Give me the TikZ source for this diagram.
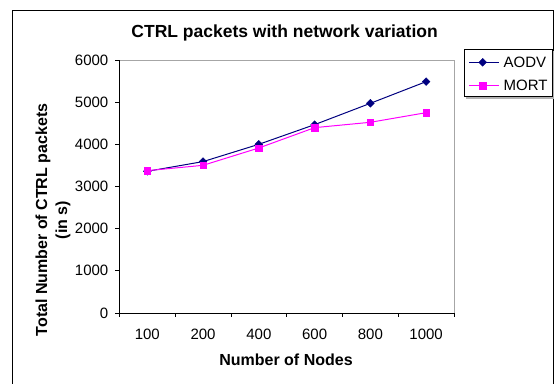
\documentclass[tikz,border=0pt]{standalone}
\usepackage{fontspec}
\setmainfont{Liberation Sans}
\usetikzlibrary{shapes.geometric}
\definecolor{aodv}{RGB}{0,0,128}
\definecolor{mort}{RGB}{255,0,255}
\begin{document}
\begin{tikzpicture}[x=1pt,y=-1pt,
  tick/.style={font=\fontsize{15}{17}\selectfont, inner sep=0pt},
  axlab/.style={font=\fontsize{16}{20}\selectfont\bfseries, inner sep=0pt},
  dmark/.style={diamond, fill=aodv, draw=aodv, inner sep=0pt, minimum size=8pt},
  smark/.style={rectangle, fill=mort, draw=mort, inner sep=0pt, minimum size=6.5pt},
  aline/.style={draw=aodv, line width=1pt},
  mline/.style={draw=mort, line width=1pt}]
\useasboundingbox (0,0) rectangle (556,383);
\clip (0,0) rectangle (556,383);
\fill[white] (0,0) rectangle (556,383);
% outer frame
\draw[black, line width=1pt] (12.8,390) -- (12.8,10) -- (553,10) -- (553,390);
% title
\node[font=\fontsize{17.5}{20}\selectfont\bfseries, inner sep=0pt] (title) at (284.6,33) {CTRL packets with network variation};
% plot area
\draw[gray!70, line width=0.8pt] (119.4,60) -- (454,60) -- (454,313);
\draw[black, line width=1pt] (119.4,60) -- (119.4,313) -- (454,313);
% y ticks
\foreach \v/\lab in {0/0,1/1000,2/2000,3/3000,4/4000,5/5000,6/6000}{
  \draw[black, line width=0.8pt] (115,{313-42.17*\v}) -- (119.4,{313-42.17*\v});
  \node[tick, anchor=east] (y\v) at (108.5,{313-42.17*\v}) {\lab};
}
% x ticks
\foreach \i in {0,...,6}{
  \draw[black, line width=0.8pt] ({119.4+55.77*\i},313) -- ({119.4+55.77*\i},317);
}
\foreach \i/\lab in {0/100,1/200,2/400,3/600,4/800,5/1000}{
  \node[tick] (x\i) at ({147.3+55.77*\i},334) {\lab};
}
\node[axlab] (xlabel) at (286,360) {Number of Nodes};
\node[axlab, rotate=90, align=center] (ylabel) at (53,220) {Total Number of CTRL packets\\(in s)};
% data
\foreach \i/\v in {0/3360,1/3590,2/4000,3/4466,4/4972,5/5486}{
  \coordinate (a\i) at ({147.3+55.77*\i},{313-0.04217*\v});
}
\foreach \i/\v in {0/3375,1/3502,2/3913,3/4395,4/4522,5/4750}{
  \coordinate (m\i) at ({147.3+55.77*\i},{313-0.04217*\v});
}
\draw[aline] (a0) -- (a1) -- (a2) -- (a3) -- (a4) -- (a5);
\foreach \i in {0,...,5}{ \node[dmark] (am\i) at (a\i) {}; }
\draw[mline] (m0) -- (m1) -- (m2) -- (m3) -- (m4) -- (m5);
\foreach \i in {0,...,5}{ \node[smark] (mm\i) at (m\i) {}; }
% legend
\fill[gray!60] (466,51.3) rectangle (554,98.7);
\draw[black, line width=0.8pt, fill=white] (464,49.3) rectangle (552,96.7);
\coordinate (la1) at (469,62.3);
\coordinate (la2) at (499,62.3);
\coordinate (lm1) at (469,85.7);
\coordinate (lm2) at (499,85.7);
\draw[aline] (la1) -- (la2);
\node[dmark] (lad) at (482.7,62.3) {};
\draw[mline] (lm1) -- (lm2);
\node[smark] (lms) at (482.7,85.7) {};
\node[tick, anchor=west] (laodv) at (503.5,62.3) {AODV};
\node[tick, anchor=west] (lmort) at (503.5,85.7) {MORT};
\end{tikzpicture}
\end{document}
